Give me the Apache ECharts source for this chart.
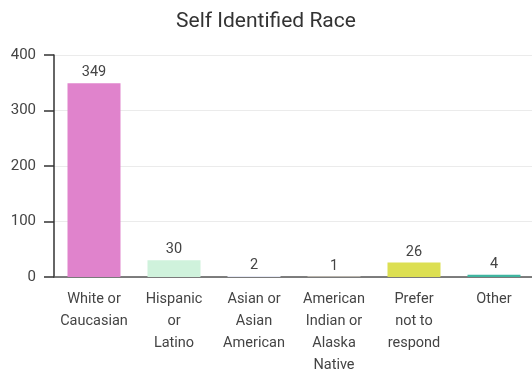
<!DOCTYPE html>
<html>
<head>
<meta charset="utf-8">
<script src="https://cdn.jsdelivr.net/npm/echarts@6/dist/echarts.min.js"></script>
<style>
  html, body { margin: 0; padding: 0; background: #fff; }
  #chart { width: 532px; height: 372px; }
</style>
</head>
<body>
<div id="chart"></div>
<script>
// Survey responses: self identified race
const categories = [
  'White or\nCaucasian',
  'Hispanic\nor\nLatino',
  'Asian or\nAsian\nAmerican',
  'American\nIndian or\nAlaska\nNative',
  'Prefer\nnot to\nrespond',
  'Other'
];
const counts = [349, 30, 2, 1, 26, 4];
const barColors = ['#e083cc', '#cff2dc', '#e6e9f5', '#f1eadc', '#dcdf52', '#3fb5a0'];
const yTicks = [0, 100, 200, 300, 400];

const chart = echarts.init(document.getElementById('chart'));
const font = 'Roboto, sans-serif';

chart.setOption({
  animation: false,
  title: {
    text: 'Self Identified Race',
    left: 'center',
    top: 6,
    textStyle: { fontFamily: font, fontSize: 21, fontWeight: 'normal', color: '#333' }
  },
  grid: { left: 54, right: -2, top: 55, bottom: 95, containLabel: false, outerBoundsMode: 'none' },
  xAxis: {
    type: 'category',
    data: categories,
    axisLine: { lineStyle: { color: '#555', width: 1.5 } },
    axisTick: { alignWithLabel: true, length: 7, lineStyle: { color: '#333', width: 1.5 } },
    axisLabel: {
      interval: 0,
      fontFamily: font,
      fontSize: 14.5,
      color: '#444',
      lineHeight: 22,
      margin: 11
    }
  },
  yAxis: {
    type: 'value',
    min: yTicks[0],
    max: yTicks[yTicks.length - 1],
    interval: 100,
    axisLine: { show: true, lineStyle: { color: '#333', width: 1.5 } },
    axisTick: { show: true, length: 10, lineStyle: { color: '#333', width: 1.5 } },
    axisLabel: { fontFamily: font, fontSize: 15, color: '#444', margin: 18 },
    splitLine: { lineStyle: { color: '#ebebeb', width: 1 } }
  },
  series: [{
    type: 'bar',
    data: counts.map((v, i) => ({ value: v, itemStyle: { color: barColors[i] } })),
    barWidth: 53,
    label: {
      show: true,
      position: 'top',
      distance: 3,
      fontFamily: font,
      fontSize: 14.5,
      color: '#444'
    }
  }]
});
</script>
</body>
</html>
